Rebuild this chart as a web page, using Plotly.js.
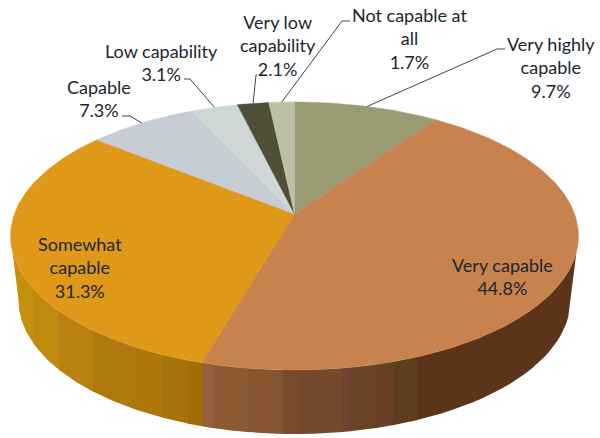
<!DOCTYPE html>
<html>
<head>
<meta charset="utf-8">
<script src="https://cdn.plot.ly/plotly-3.0.1.min.js"></script>
<style>html,body{margin:0;padding:0;background:#fff}#chart{width:600px;height:438px}</style>
</head>
<body>
<div id="chart"></div>
<script>
// Survey shares, clockwise from twelve o'clock.
const categories = ['Very highly<br>capable', 'Very capable', 'Somewhat<br>capable', 'Capable',
                    'Low capability', 'Very low<br>capability', 'Not capable at<br>all'];
const shares = [9.7, 44.8, 31.3, 7.3, 3.1, 2.1, 1.7];
const faceColors = ['#9a9a73', '#c8824d', '#df9817', '#c5ccd6', '#cfd7d6', '#4f4e36', '#bcc0a5'];

// Label anchors, in plot units: centre x, centre y of the text block.
const labelX = [551, 502, 80, 99, 161, 278, 409];
const labelY = [67.5, 276, 267, 98.5, 62, 45.5, 38.5];
// Elbow points of the leader lines: text end and bend, null for inside labels.
const leaderStart = [[505, 49], null, null, [122, 116], [184, 79], [257, 75], [350, 21]];
const leaderBend = [[497, 49], null, null, [130, 116], [190, 79], [256, 75], [342, 21]];

// Shading of the pie wall, left to right: right-hand limit of each band and its colour.
const wallLimits = [33, 59, 93, 132, 163, 188, 203, 213, 232, 248, 275, 283, 300, 342, 350, 375, 393, 417, 579];
const wallColors = ['#c6900f', '#bf8a0e', '#b88112', '#ae7a10', '#b0780c', '#a8720a', '#a26d06',
                    '#966040', '#8e5a33', '#8b5c33', '#87552f', '#7f5632', '#7a4b2a', '#754a2c',
                    '#6f432f', '#6a4326', '#6a3f28', '#5e3e1c', '#5c3419'];

// Perspective model of the disc.
const APEX_X = 294.5, APEX_Y = 214, SPREAD_X = 280.1, SPREAD_Y = 130.4, TILT = 0.1642;
const WALL_DROP = 64, WALL_SHRINK = 0.972;

function rim(pct) {
  const t = pct / 100 * 2 * Math.PI;
  const d = 1 + TILT * Math.cos(t);
  return [APEX_X + SPREAD_X * Math.sin(t) / d, APEX_Y - SPREAD_Y * Math.cos(t) / d];
}
function foot(pct) {
  const p = rim(pct);
  return [APEX_X + (p[0] - APEX_X) * WALL_SHRINK, p[1] + WALL_DROP];
}
// Percent position on the front arc for a given horizontal position.
const FRONT_RIGHT = Math.acos(-TILT) / (2 * Math.PI) * 100, FRONT_LEFT = 100 - FRONT_RIGHT;
function pctAtX(x) {
  let hi = FRONT_LEFT, lo = FRONT_RIGHT; // x falls as pct grows
  for (let i = 0; i < 40; i++) {
    const m = (lo + hi) / 2;
    if (rim(m)[0] > x) lo = m; else hi = m;
  }
  return (lo + hi) / 2;
}
function footPctAtX(x) {
  return pctAtX(APEX_X + (x - APEX_X) / WALL_SHRINK);
}
function polygon(points, color, edge) {
  return {
    type: 'scatter', mode: 'lines', x: points.map(p => p[0]), y: points.map(p => p[1]),
    fill: 'toself', fillcolor: color, line: {color: color, width: edge},
    hoverinfo: 'skip', showlegend: false
  };
}
const traces = [];

// Wall: upright strips painted left to right, each overlapped by the next one.
const OVERLAP = 0.8, STEPS = 24;
wallLimits.forEach((limit, i) => {
  const last = i === wallLimits.length - 1;
  const left = i === 0 ? -Infinity : wallLimits[i - 1];
  const right = last ? Infinity : limit + OVERLAP;
  const topFrom = i === 0 ? FRONT_LEFT : pctAtX(left);
  const topTo = last ? FRONT_RIGHT : pctAtX(right);
  const footFrom = i === 0 ? FRONT_LEFT : footPctAtX(left);
  const footTo = last ? FRONT_RIGHT : footPctAtX(right);
  const top = [], bottom = [];
  for (let k = 0; k <= STEPS; k++) {
    top.push(rim(topFrom + (topTo - topFrom) * k / STEPS));
    bottom.unshift(foot(footFrom + (footTo - footFrom) * k / STEPS));
  }
  traces.push(polygon(top.concat(bottom), wallColors[i], 0));
});

// Top face: one wedge per share.
let running = 0;
const mids = [];
shares.forEach((share, i) => {
  const pts = [[APEX_X, APEX_Y]];
  const n = Math.max(6, Math.round(share * 4));
  for (let k = 0; k <= n; k++) pts.push(rim(running + share * k / n));
  pts.push([APEX_X, APEX_Y]);
  traces.push(polygon(pts, faceColors[i], 0.5));
  mids.push(running + share / 2);
  running += share;
});

// Leader lines end on the rim at each wedge's mid-angle.
shares.forEach((share, i) => {
  if (!leaderStart[i]) return;
  const end = rim(mids[i]);
  const path = [leaderStart[i], leaderBend[i], end];
  traces.push({
    type: 'scatter', mode: 'lines', x: path.map(p => p[0]), y: path.map(p => p[1]),
    line: {color: '#3f454c', width: 1}, hoverinfo: 'skip', showlegend: false
  });
});

const annotations = categories.map((name, i) => ({
  x: labelX[i], y: labelY[i], xref: 'x', yref: 'y', showarrow: false,
  xanchor: 'center', yanchor: 'middle', align: 'center',
  text: name + '<br>' + shares[i].toFixed(1) + '%',
  font: {family: 'Lato, Carlito, sans-serif', size: 18, color: '#20262e'}
}));

const hiddenAxis = {visible: false, fixedrange: true};
Plotly.newPlot('chart', traces, {
  width: 600, height: 438, margin: {l: 0, r: 0, t: 0, b: 0},
  paper_bgcolor: '#ffffff', plot_bgcolor: '#ffffff', showlegend: false,
  xaxis: Object.assign({range: [0, 600]}, hiddenAxis),
  yaxis: Object.assign({range: [438, 0]}, hiddenAxis),
  annotations: annotations
}, {displayModeBar: false, staticPlot: true});
</script>
</body>
</html>
